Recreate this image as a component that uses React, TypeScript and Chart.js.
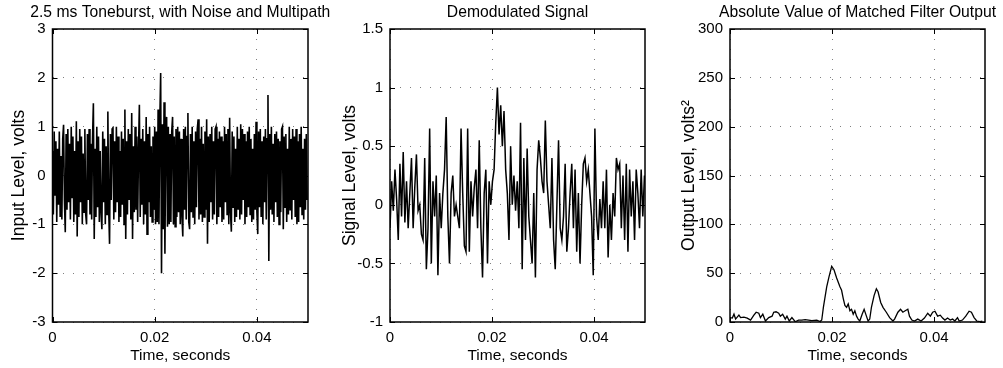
import React, { useEffect, useRef } from 'react';
import { Chart, registerables } from 'chart.js';

Chart.register(...registerables);

const FONT = '"Liberation Sans", Arial, Helvetica, sans-serif';

// ---------- shared axis data ----------
const TIME_TICKS = [0, 0.02, 0.04];
const TIME_TICK_LABELS = ['0', '0.02', '0.04'];
const TIME_MAX = 0.05;

// ---------- panel 1: input signal (sample interval 1/6000 s) ----------
const INPUT_SAMPLE_DT = 1 / 6000;
const inputLevel = [
  0.5, -0.8, 0.9, -0.4, 0.7, -0.95, 0.55, -0.6, 0.9, -0.85, 0.4, -0.9, 0.75, 1.04, -0.5, -1.16, 0.85, -0.7, 0.95, -0.55,
  0.65, -0.9, 1.0, -0.45, 0.8, -0.95, 0.5, -0.8, 1.11, -1.25, 0.7, -0.85, 0.95, -0.55, 0.8, -1.0, 0.45, -0.75, 0.95, -0.8,
  -1.0, 0.85, -0.5, 0.95, -0.8, 0.65, -0.9, 0.75, 1.48, -1.3, 0.55, -0.85, 1.0, -0.65, 0.8, -0.95, 0.5, -0.75, -1.1, 0.9,
  -0.55, 0.75, -1.0, 0.6, -0.8, 1.31, -0.7, -1.4, 0.85, -0.5, 0.95, 1.0, -0.9, 0.7, -0.75, 1.0, -0.55, 0.8, -0.95, 0.5,
  -0.85, 0.9, -0.6, 0.75, -1.0, 1.35, -1.3, 0.7, -0.8, 0.95, -0.5, 0.85, -0.9, 1.28, -1.3, 0.6, -0.75, 1.0, -0.7, 0.8,
  -0.95, 0.55, 1.45, -0.85, 0.75, -0.6, 0.95, -1.0, 0.7, -0.8, 1.2, -1.2, 0.85, -0.55, 1.0, -0.85, 0.6, -0.95, 0.8, -0.7,
  1.0, -1.0, 0.9, -0.95, 1.35, -1.0, 1.1, 2.1, -2.0, 1.05, -1.1, 1.5, -1.6, 0.95, 1.2, -1.05, 1.0, -1.0, 0.85, -0.95,
  0.9, 1.2, -1.0, 0.8, -1.05, 0.95, -0.85, 1.0, -0.75, 0.9, -1.0, 0.75, -0.85, -1.25, 0.95, -0.7, 1.0, -0.9, 0.8, 1.28,
  -0.95, -1.1, 0.85, -0.75, 1.0, -0.85, 0.7, -1.0, 0.9, -0.65, 0.95, 1.15, -0.9, 0.75, -0.8, 1.0, -0.95, 0.65, -0.85, 0.9,
  -0.7, 1.15, -1.4, 0.8, -0.95, 0.85, -0.55, 1.0, -0.9, 0.7, -0.8, 0.95, 1.0, -1.0, 0.75, -0.85, 0.9, -0.65, 0.8, -0.95,
  0.7, -0.9, 1.0, -0.55, 0.85, -0.8, 0.95, -1.0, 1.18, -0.75, -1.15, 0.9, -0.65, 0.8, -0.95, 0.55, -0.85, 1.0, -0.7, 0.75,
  -0.9, 1.05, -0.8, 0.95, -0.5, 0.85, -1.0, 0.7, -0.85, 0.9, -0.65, 1.0, -0.8, 0.75, -0.95, 0.55, -0.9, 0.85, -0.7, 1.1,
  -0.75, -1.2, 0.9, -0.65, 0.95, -0.85, 0.7, -1.0, 0.8, -0.55, 0.95, -0.9, 0.75, 1.65, -1.75, 0.85, -0.7, 1.0, -0.8, 0.65,
  -0.95, 0.85, -0.55, 0.9, -0.85, 0.75, -1.0, 0.7, -0.75, 0.95, 1.0, -1.1, 0.8, -0.65, 0.85, -0.95, 0.55, -0.8, 1.0, -0.7,
  0.75, -0.9, 0.95, -0.5, 0.8, -0.85, 0.95, -1.0, 0.7, -0.95, 0.85, -0.65, 1.0, -0.8, 0.55, -0.9, 0.75, -0.7, 0.85, -0.5,
];
const INPUT_TICKS = [-3, -2, -1, 0, 1, 2, 3];
const INPUT_TICK_LABELS = ['-3', '-2', '-1', '0', '1', '2', '3'];

// ---------- panel 2: demodulated signal (sample interval 0.000324 s) ----------
const SIGNAL_SAMPLE_DT = 0.000324;
const signalLevel = [
  -0.2, 0.2, -0.05, 0.3, 0.05, -0.3, 0.35, -0.1, 0.45, -0.15,
  0.2, -0.2, 0.1, 0.4, -0.2, 0.15, 0.43, -0.05, 0.0, -0.25,
  -0.3, 0.4, -0.55, -0.2, 0.65, -0.5, 0.2, -0.1, 0.25, -0.6,
  0.1, -0.2, 0.1, 0.3, 0.75, -0.1, -0.5, 0.1, 0.25, -0.1,
  0.0, -0.1, -0.2, 0.65, 0.1, -0.35, -0.4, 0.65, -0.4, 0.2,
  -0.1, 0.15, 0.3, -0.2, 0.55, -0.2, -0.62, 0.1, 0.3, -0.5,
  0.2, 0.0, 0.2, 0.3, 0.7, 1.0, 0.6, 0.85, 0.5, 0.8,
  0.3, 0.1, -0.3, 0.5, 0.0, 0.25, -0.05, 0.2, -0.2, 0.7,
  -0.55, 0.4, -0.3, 0.48, -0.1, -0.3, -0.5, 0.1, -0.62, 0.3,
  0.55, 0.4, 0.2, 0.1, 0.72, 0.2, 0.0, -0.2, 0.4, -0.3,
  -0.55, 0.0, 0.55, -0.2, -0.3, -0.1, 0.35, -0.4, -0.2, 0.1,
  0.35, -0.2, 0.3, -0.4, 0.1, -0.5, 0.0, 0.35, 0.4, 0.2,
  0.3, 0.1, -0.1, -0.6, 0.65, -0.1, -0.3, 0.05, -0.2, 0.2,
  -0.2, 0.3, -0.45, 0.0, -0.3, 0.1, -0.1, 0.4, 0.3, 0.35,
  -0.2, 0.25, -0.3, 0.35, -0.4, 0.3, -0.1, 0.2, -0.3, 0.3,
  0.1, -0.2, 0.3, -0.1, 0.25,
];
const SIGNAL_TICKS = [-1, -0.5, 0, 0.5, 1, 1.5];
const SIGNAL_TICK_LABELS = ['-1', '-0.5', '0', '0.5', '1', '1.5'];

// ---------- panel 3: matched filter output ----------
const filterTimeMs = [
  0, 0.45, 0.78, 1.10, 1.75, 2.08, 2.73, 3.38, 4.03, 4.68,
  5.13, 5.65, 5.97, 6.43, 6.95, 7.60, 8.25, 8.57, 9.03, 9.55,
  9.87, 10.32, 10.84, 11.17, 11.62, 12.14, 12.79, 13.44, 14.09, 14.74,
  15.39, 16.04, 17.01, 17.66, 17.99, 18.31, 18.96, 19.42, 19.94, 20.39,
  20.91, 21.56, 21.88, 22.21, 22.53, 22.86, 23.18, 23.51, 23.83, 24.16,
  24.48, 24.81, 25.13, 25.45, 25.91, 26.30, 26.75, 27.08, 27.40, 27.73,
  28.25, 28.70, 29.03, 29.55, 30.00, 30.65, 31.30, 31.95, 32.27, 32.92,
  33.44, 33.90, 34.35, 34.87, 35.19, 35.65, 36.17, 36.82, 37.47, 38.12,
  38.77, 39.29, 39.74, 40.19, 40.71, 41.23, 41.69, 42.14, 42.66, 43.18,
  43.64, 44.09, 44.61, 44.94, 45.58, 46.23, 46.88, 47.34, 47.86, 48.38,
  49.03, 49.48,
];
const filterOutput = [
  4.5, 4, 8, 3, 7, 4.5, 5, 4, 2, 7,
  10, 9, 4.5, 8, 1, 4.5, 6, 10, 10.5, 9,
  6, 8, 3, 6, 1, 4.5, 0.3, 2, 2, 2.5,
  2, 1.5, 2, 0.5, 2, 15, 36, 46.5, 57, 53.5,
  45, 36, 32.5, 24, 17, 15, 18.5, 11.5, 13, 8,
  11.5, 6, 3, 1, 8, 13, 6, 1, 3, 15,
  27, 34, 31, 20, 15, 10, 4.5, 1, 3, 10,
  13, 10, 11.5, 13, 6, 2, 1, 3, 1, 4,
  9, 6, 10, 11, 6, 7, 4, 2, 4, 2,
  3, 1, 4.5, 1, 2, 6, 11, 10, 4.5, 1,
  0.3, 1,
];
const OUTPUT_TICKS = [0, 50, 100, 150, 200, 250, 300];
const OUTPUT_TICK_LABELS = ['0', '50', '100', '150', '200', '250', '300'];

// ---------- drawing helpers ----------
const framePlugin = {
  id: 'matlabFrame',
  afterDraw(chart: any, _args: any, opts: any) {
    const { ctx, chartArea: a, scales } = chart;
    const x = scales.x;
    const y = scales.y;
    ctx.save();
    ctx.strokeStyle = '#000';
    ctx.lineWidth = 1;
    const len = 5;
    ctx.beginPath();
    x.ticks.forEach((t: any) => {
      const px = Math.round(x.getPixelForValue(t.value)) + 0.5;
      ctx.moveTo(px, a.bottom);
      ctx.lineTo(px, a.bottom - len);
      ctx.moveTo(px, a.top);
      ctx.lineTo(px, a.top + len);
    });
    y.ticks.forEach((t: any) => {
      const py = Math.round(y.getPixelForValue(t.value)) + 0.5;
      ctx.moveTo(a.left, py);
      ctx.lineTo(a.left + len, py);
      ctx.moveTo(a.right, py);
      ctx.lineTo(a.right - len, py);
    });
    ctx.stroke();
    ctx.lineWidth = 1.5;
    ctx.strokeRect(a.left, a.top, a.right - a.left, a.bottom - a.top);
    // panel title, centred over the plot box
    if (opts && opts.text) {
      ctx.fillStyle = '#000';
      ctx.font = `15.7px ${FONT}`;
      ctx.textAlign = 'center';
      ctx.textBaseline = 'middle';
      ctx.fillText(opts.text, (a.left + a.right) / 2, 12.5);
    }
    ctx.restore();
  },
};

type Panel = {
  title: string;
  yTitle: string;
  points: { x: number; y: number }[];
  yTicks: number[];
  yTickLabels: string[];
  padLeft: number;
  padRight: number;
  yWidth: number;
  yTitlePad: number;
  lineWidth: number;
};

function makeConfig(p: Panel): any {
  const tickFont = { family: FONT, size: 15 };
  return {
    type: 'line',
    data: {
      datasets: [
        {
          data: p.points,
          borderColor: '#000',
          borderWidth: p.lineWidth,
          pointRadius: 0,
          tension: 0,
          fill: false,
        },
      ],
    },
    options: {
      animation: false,
      responsive: false,
      events: [],
      parsing: false,
      normalized: true,
      layout: { padding: { left: p.padLeft, right: p.padRight, top: 29, bottom: 0 } },
      plugins: {
        legend: { display: false },
        tooltip: { enabled: false },
        title: { display: false },
        matlabFrame: { text: p.title },
      },
      scales: {
        x: {
          type: 'linear',
          min: 0,
          max: TIME_MAX,
          afterBuildTicks: (s: any) => {
            s.ticks = TIME_TICKS.map((v) => ({ value: v }));
          },
          afterFit: (s: any) => {
            s.height = 46;
          },
          ticks: {
            callback: (_v: any, i: number) => TIME_TICK_LABELS[i],
            font: tickFont,
            color: '#000',
            padding: 7,
            maxRotation: 0,
            autoSkip: false,
          },
          grid: { color: 'rgba(0,0,0,0.5)', lineWidth: 1, drawTicks: false },
          border: { display: false, dash: [1, 9] },
          title: {
            display: true,
            text: 'Time, seconds',
            color: '#000',
            font: { family: FONT, size: 15.5 },
            padding: { top: 0, bottom: 2.7 },
          },
        },
        y: {
          type: 'linear',
          min: p.yTicks[0],
          max: p.yTicks[p.yTicks.length - 1],
          afterBuildTicks: (s: any) => {
            s.ticks = p.yTicks.map((v) => ({ value: v }));
          },
          afterFit: (s: any) => {
            s.width = p.yWidth;
          },
          ticks: {
            callback: (_v: any, i: number) => p.yTickLabels[i],
            font: tickFont,
            color: '#000',
            padding: 7,
            autoSkip: false,
          },
          grid: { color: 'rgba(0,0,0,0.5)', lineWidth: 1, drawTicks: false },
          border: { display: false, dash: [1, 9] },
          title: {
            display: true,
            text: p.yTitle,
            color: '#000',
            font: { family: FONT, size: 17.5 },
            padding: { top: p.yTitlePad, bottom: 0 },
          },
        },
      },
    },
    plugins: [framePlugin],
  };
}

const panels: Panel[] = [
  {
    title: '2.5 ms Toneburst, with Noise and Multipath',
    yTitle: 'Input Level, volts',
    points: inputLevel.map((v, i) => ({ x: i * INPUT_SAMPLE_DT, y: v })),
    yTicks: INPUT_TICKS,
    yTickLabels: INPUT_TICK_LABELS,
    padLeft: 0,
    padRight: 1003 - 308,
    yWidth: 52.5,
    yTitlePad: 9,
    lineWidth: 1.6,
  },
  {
    title: 'Demodulated Signal',
    yTitle: 'Signal Level, volts',
    points: signalLevel.map((v, i) => ({ x: i * SIGNAL_SAMPLE_DT, y: v })),
    yTicks: SIGNAL_TICKS,
    yTickLabels: SIGNAL_TICK_LABELS,
    padLeft: 335,
    padRight: 1003 - 645,
    yWidth: 55,
    yTitlePad: 5,
    lineWidth: 1.5,
  },
  {
    title: 'Absolute Value of Matched Filter Output',
    yTitle: 'Output Level, volts\u00B2',
    points: filterOutput.map((v, i) => ({ x: filterTimeMs[i] / 1000, y: v })),
    yTicks: OUTPUT_TICKS,
    yTickLabels: OUTPUT_TICK_LABELS,
    padLeft: 670,
    padRight: 1003 - 985,
    yWidth: 60,
    yTitlePad: 9,
    lineWidth: 1.3,
  },
];

export default function App() {
  const r1 = useRef<HTMLCanvasElement>(null);
  const r2 = useRef<HTMLCanvasElement>(null);
  const r3 = useRef<HTMLCanvasElement>(null);

  useEffect(() => {
    const refs = [r1, r2, r3];
    const charts = panels.map((p, i) => new Chart(refs[i].current as HTMLCanvasElement, makeConfig(p)));
    return () => charts.forEach((c) => c.destroy());
  }, []);

  const canvasStyle: React.CSSProperties = {
    position: 'absolute',
    left: 0,
    top: 0,
    width: 1003,
    height: 368,
  };

  return (
    <div
      style={{
        position: 'absolute',
        left: 0,
        top: 0,
        width: 1003,
        height: 368,
        background: '#fff',
        overflow: 'hidden',
      }}
    >
      <canvas ref={r1} width={1003} height={368} style={canvasStyle} />
      <canvas ref={r2} width={1003} height={368} style={canvasStyle} />
      <canvas ref={r3} width={1003} height={368} style={canvasStyle} />
    </div>
  );
}
